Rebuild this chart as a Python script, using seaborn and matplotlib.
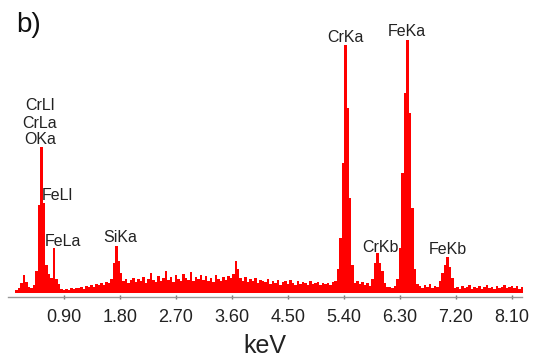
import numpy as np
import pandas as pd
import matplotlib
matplotlib.use("Agg")
import matplotlib.pyplot as plt
import seaborn as sns

# channel grid of the spectrum (keV)
E_START = 0.14
E_STEP = 0.04

# counts per channel (arbitrary units)
counts = [
    3, 5, 10, 18, 11, 6, 5, 8, 22, 88, 146, 90, 28, 19, 15, 45, 14, 9, 4, 3, 4, 3, 5, 4, 5,
    5, 6, 4, 7, 6, 8, 6, 9, 8, 10, 8, 11, 10, 14, 30, 47, 32, 20, 12, 14, 10, 13, 15, 11, 14,
    12, 16, 10, 14, 20, 13, 11, 17, 12, 15, 22, 13, 16, 11, 18, 14, 12, 19, 15, 13, 21, 12, 16, 14, 18,
    13, 17, 12, 15, 11, 18, 14, 12, 16, 13, 17, 15, 19, 32, 24, 15, 12, 16, 11, 14, 12, 15, 10, 13, 12,
    11, 14, 9, 12, 10, 13, 8, 11, 12, 9, 13, 10, 8, 12, 9, 11, 10, 8, 12, 9, 10, 11, 8, 10, 9,
    10, 8, 11, 12, 24, 55, 130, 248, 185, 95, 28, 10, 12, 9, 11, 8, 10, 7, 14, 30, 40, 30, 22, 10, 6,
    6, 5, 7, 14, 45, 120, 200, 253, 180, 85, 24, 9, 7, 5, 8, 6, 9, 5, 7, 6, 12, 20, 28, 36, 26,
    15, 5, 6, 4, 7, 5, 6, 8, 4, 6, 5, 7, 4, 6, 8, 5, 6, 4, 7, 5, 6, 8, 5, 6, 7,
    5, 7, 4, 6,
]

tick_values = [0.90, 1.80, 2.70, 3.60, 4.50, 5.40, 6.30, 7.20, 8.10]
tick_labels = ["0.90", "1.80", "2.70", "3.60", "4.50", "5.40", "6.30", "7.20", "8.10"]

peak_names = ["CrLl", "CrLa", "OKa", "FeLl", "FeLa", "SiKa", "CrKa", "FeKa", "CrKb", "FeKb"]
peak_x = [0.514, 0.514, 0.514, 0.547, 0.595, 1.80, 5.42, 6.415, 5.98, 7.07]
peak_y = [188, 170, 153, 98, 51, 56, 256, 261, 46, 43]
peak_ha = ["center", "center", "center", "left", "left", "center", "center", "center", "center", "center"]

energy = E_START + E_STEP * np.arange(len(counts))
df = pd.DataFrame({"energy": energy, "counts": counts})
lo = E_START - E_STEP / 2
hi = lo + E_STEP * len(counts)

sns.set_theme(style="white")
plt.rcParams["font.family"] = ["Liberation Sans", "DejaVu Sans"]

fig = plt.figure(figsize=(5.45, 3.6), dpi=100)
ax = fig.add_axes([8 / 545, 63 / 360, 514 / 545, 277 / 360])

sns.histplot(data=df, x="energy", weights="counts", binwidth=E_STEP, binrange=(lo, hi),
             element="step", fill=True, color="#ff0000", alpha=1, linewidth=0, ax=ax)

ax.set_xlim(0, 8.26)
ax.set_ylim(-4, 273)
for s in ["left", "right", "top"]:
    ax.spines[s].set_visible(False)
ax.spines["bottom"].set_color("#999999")
ax.spines["bottom"].set_linewidth(1.0)
ax.set_yticks([])
ax.set_ylabel("")
ax.set_xticks(tick_values, tick_labels)
ax.tick_params(axis="x", direction="inout", length=3.5, width=1, color="#777777",
               labelsize=13, labelcolor="#222222", pad=7, bottom=True)
ax.set_xlabel("keV", fontsize=18, color="#222222", labelpad=6)

for name, x, y, ha in zip(peak_names, peak_x, peak_y, peak_ha):
    ax.text(x, y, name, ha=ha, va="center", fontsize=11.5, color="#222222")

fig.text(16 / 545, 1 - 32 / 360, "b)", fontsize=20, va="baseline", color="#111111")

fig.savefig("out.png", dpi=100)
